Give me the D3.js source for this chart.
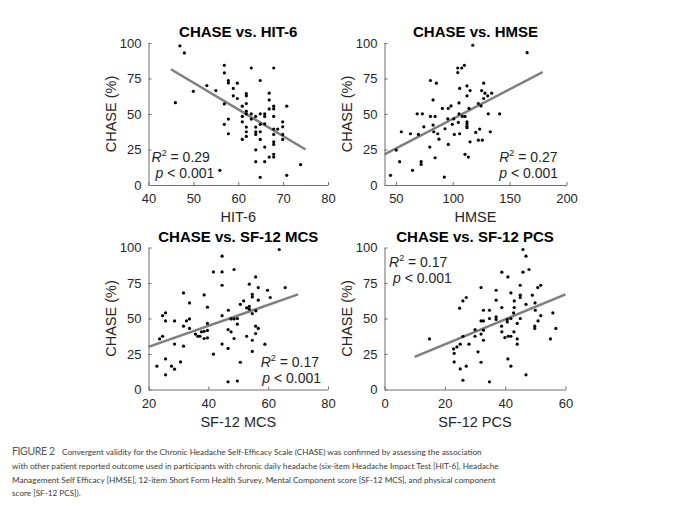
<!DOCTYPE html>
<html>
<head>
<meta charset="utf-8">
<script src="https://cdn.jsdelivr.net/npm/d3@7"></script>
<style>
  body { margin: 0; background: #fff; }
  svg { display: block; font-family: "Liberation Sans", Arial, sans-serif; }
  .tick-label { fill: #262626; font-size: 13px; }
  .axis-title { fill: #262626; font-size: 14.5px; }
  .panel-title { fill: #000; font-size: 15px; font-weight: bold; }
  .stat { fill: #262626; font-size: 14px; }
  .caption { fill: #3a3a3a; font-family: Lato, "Open Sans", sans-serif; font-size: 8.2px; }
</style>
</head>
<body>
<div id="chart"></div>
<script>
// ---- data ----
const panelTitles = ["CHASE vs. HIT-6", "CHASE vs. HMSE", "CHASE vs. SF-12 MCS", "CHASE vs. SF-12 PCS"];
const xLabels = ["HIT-6", "HMSE", "SF-12 MCS", "SF-12 PCS"];
const yLabel = "CHASE (%)";
const yTicks = [0, 25, 50, 75, 100];
const hit6Ticks = [40, 50, 60, 70, 80];
const hmseTicks = [50, 100, 150, 200];
const mcsTicks = [20, 40, 60, 80];
const pcsTicks = [0, 20, 40, 60];
const r2Values = ["0.29", "0.27", "0.17", "0.17"];
const pText = "< 0.001";

const hit6Pts = [[47,98],[48,93],[46,58],[50,66],[53,70],[55,66.5],
  [56.9,84.3],[56.9,78.9],[57.8,73.6],[57.8,71.9],[59.8,71.7],[58.9,68],[58.9,62.8],[59.8,60.9],
  [62.9,82.4],[67.9,82.4],[64.9,73.6],
  [56.9,57.1],[57.8,46.4],[56.9,42.7],[57.8,36.1],[55.9,10.3],
  [61.8,64.4],[61.8,62.8],[61.8,57.4],[60.9,55.5],[61.8,52],[61.8,50.1],[60.9,48.3],[60.9,44.5],
  [62.9,50.1],[62.9,46.4],[63.9,48.3],[64.9,50.1],[65.9,50.1],[65.9,48.3],
  [61.8,40.8],[61.8,37.5],[61.8,34.2],[60.9,32.1],
  [63.9,40.8],[63.9,37.5],[63.9,35.6],[64.9,42.7],[64.9,37.5],[65.9,43.1],[64.9,32.1],
  [65.9,26.7],[63.9,24.8],[63.9,16.4],[65.9,16.4],[64.9,5.4],
  [66.9,64.7],[66.9,59.9],[66.9,53.6],[67.9,55.5],[67.9,53.6],[67.9,48.3],[67.9,39.4],[68.8,39.4],
  [67.9,35.6],[67.9,30.4],[67.9,28.6],[67.9,21.6],[67.9,19.7],[66.9,19.7],
  [69.9,44.5],[69.9,41],[69.9,35.6],[69.9,32.1],[70.8,55.5],[70.8,6.8],[73.9,14.3]];

const hmsePts = [[45.3,6.8],[50.3,24.6],[53.3,16.4],[54.8,37.5],
  [104.4,82.4],[104.4,79.2],[107.9,82.4],[110.2,84.3],[80.4,73.6],[85.6,71.7],[106.1,68],[112.5,69.8],
  [115.2,66.5],[112.5,62.8],[127.2,71.7],[125.4,66.5],[128.3,64.7],[130.7,62.8],[134.2,64.7],[127.2,60.9],
  [122.5,57.4],[124.8,55.7],[82.7,59.9],[98.5,55.7],[90.9,53.9],[96.1,53.9],[105.5,57.8],[114.3,53.9],
  [68.7,50.1],[73.3,50.1],[80.4,48.3],[84.5,48.3],[95.6,46.6],[100.9,46.6],[105.5,50.1],[108.4,48.3],
  [110.8,48.3],[131.2,50.1],[141.2,50.1],[112.5,44.5],[112.5,43.1],[112.5,41.3],[112.5,40.3],[104.9,44.1],
  [99.6,42.7],[93.2,39.6],[82.7,42.2],[74.6,41],[86.8,36.1],[87.9,32.3],[83.3,37.5],[69.8,35.6],
  [62.8,36.1],[101.4,35.6],[106.1,36.1],[115.2,30.4],[120.2,37],[123.7,39.4],[122.5,31.6],[126,31.6],
  [133,37.5],[96.1,28.6],[79.8,26.7],[110.8,21.6],[113.7,19.7],[84.5,19.2],[72.2,16.4],[72.2,14.5],
  [64.6,10.3],[92.6,5.6],[117.6,98.4],[165.4,93.2]];

const mcsPts = [[22.8,16.4],[23.7,35.6],[24.7,37.5],[24.7,52],[25.7,54],[25.7,48.3],[25.7,21.5],[25.7,10.3],
  [28.7,48.3],[28.7,32],[27.7,16.4],[28.7,14.3],[30.7,19.4],[31.7,68],[31.7,44.6],[31.7,30.5],
  [32.7,48.3],[33.7,61],[33.7,49.7],[33.7,43],[35.7,39],[36.5,37.5],[37.2,37.5],[37.7,40.6],
  [38.6,66.6],[38.6,41],[38.6,35.9],[39.7,58],[39.7,46.5],[39.7,41.6],[39.7,36.4],[41.7,24.9],
  [41.7,82.8],[44.6,93.9],[44.6,82.8],[44.6,73.4],[44.6,52],[44.6,32],
  [48.6,84.5],[63.7,98.6],[55.8,79.3],[53.7,74.2],[56.7,71.8],[59.8,69.9],[65.7,71.8],[54.7,67],
  [54.7,65.2],[56.7,62.9],[60.7,64.8],[51.8,62.4],[50.7,60],[46.7,55.8],[52.8,57.5],[53.7,58.5],
  [53.7,56.5],[54.7,53.5],[55.9,55.4],[49.7,50],[47.6,49.7],[48.6,49.7],[49.7,46],[46.6,42.2],
  [47.6,40.6],[48.6,35.9],[46.6,28.9],[55.8,44.6],[56.7,43],[55.8,39.4],[52.8,37.5],[54.7,34.7],
  [54.7,26.8],[58.9,31.9],[50.7,19.2],[46.6,5.4],[49.7,6]];

const pcsPts = [[14.9,35.6],[22.9,28.6],[23.1,25.4],[23.1,19.4],[24,30],[25.1,31.9],[24.9,57.3],[26,62.4],
  [27.1,64.8],[26,37.5],[28,31.9],[27.1,16.4],[25.1,14.5],[26,6.5],[30,42.2],[30,37.5],[31,26.5],[32,71.8],
  [45.9,98.6],[46.9,93.9],[47.9,84.5],[45.9,82.6],[38.9,82.6],[40.9,79.3],[37,69.9],[41.9,68],
  [45,73.4],[45,66.4],[45,64.8],[49,66.4],[50.8,71.8],[51.8,73.4],[37,62.9],[43,62.4],[46.9,60],
  [49.9,61],[38.9,57.7],[43,57.7],[32.8,55.8],[34.8,55.8],[50,55.8],[42.8,53.9],[51.8,52],[55.8,53.9],
  [34.8,50],[37,51.1],[37,49.3],[40.7,49.3],[40.7,47.6],[45,50],[32,48.3],[32.8,48.3],[41.9,50],
  [38.8,44.6],[44,46.5],[50.9,48.3],[49.8,44.6],[49.8,43],[32.8,41.8],[32,39],[38.9,40.6],[42.9,40.6],
  [39.9,36.6],[41,37.5],[41.9,37.5],[44,35.6],[44,31.9],[32.8,34.7],[56.8,43],[55,35.6],[32,19.2],
  [40.9,21.5],[41.9,16.4],[46.9,10.3],[34.8,5.4]];

// regression line end points
const hit6Fit = [[45,81.5],[75,25]];
const hmseFit = [[40,21.5],[179,79.5]];
const mcsFit = [[20,30],[70,67]];
const pcsFit = [[10,23],[60,67]];

const captionLines = [
  "Convergent validity for the Chronic Headache Self-Efficacy Scale (CHASE) was confirmed by assessing the association",
  "with other patient reported outcome used in participants with chronic daily headache (six-item Headache Impact Test [HIT-6], Headache",
  "Management Self Efficacy [HMSE], 12-item Short Form Health Survey, Mental Component score [SF-12 MCS], and physical component",
  "score [SF-12 PCS])."
];

// ---- layout ----
const W = 680, H = 517;
const svg = d3.select("#chart").append("svg").attr("width", W).attr("height", H);
svg.append("rect").attr("width", W).attr("height", H).attr("fill", "#fff");

// stat text positions are absolute page coordinates
const panels = [
  {pts: hit6Pts, fit: hit6Fit, ticks: hit6Ticks, dom: [40, 80], left: 148.5, right: 328, top: 43, bottom: 185,
    stat: {anchor: "start", x1: 151.5, y1: 161.5, x2: 155.5, y2: 178}},
  {pts: hmsePts, fit: hmseFit, ticks: hmseTicks, dom: [40, 200], left: 384.5, right: 566.5, top: 43, bottom: 185,
    stat: {anchor: "end", x1: 557.5, y1: 161.5, x2: 558, y2: 178}},
  {pts: mcsPts, fit: mcsFit, ticks: mcsTicks, dom: [20, 80], left: 148.5, right: 328, top: 247.5, bottom: 389.5,
    stat: {anchor: "end", x1: 319, y1: 366.5, x2: 321, y2: 383}},
  {pts: pcsPts, fit: pcsFit, ticks: pcsTicks, dom: [0, 60], left: 384.5, right: 565.5, top: 247.5, bottom: 389.5,
    stat: {anchor: "start", x1: 389, y1: 266.5, x2: 393, y2: 283}}
];

panels.forEach((p, i) => {
  const x = d3.scaleLinear().domain(p.dom).range([p.left, p.right]);
  const y = d3.scaleLinear().domain([0, 100]).range([p.bottom, p.top]);
  const g = svg.append("g");

  // axes, MATLAB style: ticks point inward, only left + bottom lines
  const xAxis = d3.axisBottom(x).tickValues(p.ticks).tickSizeInner(-3).tickSizeOuter(0).tickPadding(7);
  const yAxis = d3.axisLeft(y).tickValues(yTicks).tickSizeInner(-3).tickSizeOuter(0).tickPadding(7);

  const gx = g.append("g").attr("transform", "translate(0," + p.bottom + ")").call(xAxis);
  const gy = g.append("g").attr("transform", "translate(" + p.left + ",0)").call(yAxis);
  [gx, gy].forEach(a => {
    a.select(".domain").attr("stroke", "#6e6e6e").attr("stroke-width", 1);
    a.selectAll(".tick line").attr("stroke", "#6e6e6e");
    a.selectAll(".tick text").attr("class", "tick-label").attr("font-size", null).attr("font-family", null).attr("fill", null);
    a.attr("font-size", null).attr("font-family", null);
  });
  gx.selectAll(".tick text").attr("dy", "0.85em");

  // regression line
  g.append("line")
    .attr("x1", x(p.fit[0][0])).attr("y1", y(p.fit[0][1]))
    .attr("x2", x(p.fit[1][0])).attr("y2", y(p.fit[1][1]))
    .attr("stroke", "#7f7f7f").attr("stroke-width", 2.5);

  // points
  g.selectAll("circle.pt").data(p.pts).join("circle")
    .attr("class", "pt")
    .attr("cx", d => x(d[0])).attr("cy", d => y(d[1]))
    .attr("r", 1.6).attr("fill", "#000");

  // titles and labels
  const cx = (p.left + p.right) / 2;
  g.append("text").attr("class", "panel-title").attr("x", cx).attr("y", p.top - 6)
    .attr("text-anchor", "middle").text(panelTitles[i]);
  g.append("text").attr("class", "axis-title").attr("x", cx).attr("y", p.bottom + 37)
    .attr("text-anchor", "middle").text(xLabels[i]);
  g.append("text").attr("class", "axis-title")
    .attr("transform", "translate(" + (p.left - 33) + "," + ((p.top + p.bottom) / 2) + ") rotate(-90)")
    .attr("text-anchor", "middle").text(yLabel);

  // statistics text
  const t1 = g.append("text").attr("class", "stat").attr("x", p.stat.x1).attr("y", p.stat.y1)
    .attr("text-anchor", p.stat.anchor);
  t1.append("tspan").attr("font-style", "italic").text("R");
  t1.append("tspan").attr("font-size", "9px").attr("dy", -6).text("2");
  t1.append("tspan").attr("dy", 6).text(" = " + r2Values[i]);
  const t2 = g.append("text").attr("class", "stat").attr("x", p.stat.x2).attr("y", p.stat.y2)
    .attr("text-anchor", p.stat.anchor);
  t2.append("tspan").attr("font-style", "italic").text("p");
  t2.append("tspan").text(" " + pText);
});

// ---- caption ----
const cap = svg.append("g");
cap.append("text").attr("x", 12).attr("y", 455)
  .attr("font-family", "Lato, sans-serif").attr("font-size", "10.5px")
  .attr("textLength", 43).attr("lengthAdjust", "spacing")
  .attr("fill", "#555").text("FIGURE 2");
captionLines.forEach((line, i) => {
  cap.append("text").attr("class", "caption")
    .attr("x", i === 0 ? 62 : 12).attr("y", 455 + i * 13.8)
    .text(line);
});
</script>
</body>
</html>
